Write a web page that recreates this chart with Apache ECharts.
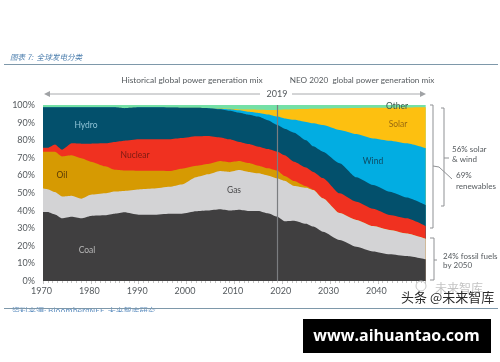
<!DOCTYPE html>
<html><head><meta charset="utf-8">
<style>html,body{margin:0;padding:0;background:#fff}#c{width:500px;height:362px}</style>
<script src="https://cdn.jsdelivr.net/npm/echarts@6/dist/echarts.min.js"></script>
</head><body><div id="c"></div>
<script>
var years=[1970,1971,1972.5,1974,1976,1978,1980,1983,1985,1987,1990,1993,1996.5,1999,2002,2004.5,2007,2009,2011,2013,2015,2017,2019,2020.5,2022.5,2025,2026.5,2028.5,2032,2035.5,2039,2042.5,2046,2050];
// upper edge of each band, in %
var coalTop=[39.2,39.2,37.8,35.6,36.5,35.6,37,37.3,38.2,39,37.6,37.6,38.2,38.2,39.6,40,40.7,40,40.5,39.8,39.8,38.5,36.5,34,34.3,32.5,30.9,28,23.3,19.5,16.8,15.2,14.2,12.3];
var gasTop=[52.6,52.2,50.5,48,48.5,46.8,49,49.8,50.8,51.2,52,52.5,53.5,54.8,59,60.6,62.5,62,63,62,61.2,60,58.3,57,54,53,51.7,47,38.6,34.7,31.2,29,27,24];
var oilTop=[73.5,73.5,73.5,70.8,71.4,69.7,67.8,65.2,63.2,62.8,62.7,62.6,62.5,63.8,65.5,66.5,68.2,67.5,68.2,67,65.5,64,62.7,59.7,56.8,53.8,51.9,47,38.6,34.7,31.2,29,27,24];
var nuclearTop=[75.7,75.7,77.6,74.6,78.2,78,78,78.2,79,79.7,80.5,80.5,80.5,81.2,82.2,82.4,81.6,80.5,79,77.8,76.3,75,73.5,71.5,67.8,64.5,62,58.5,49.8,45,41,37.5,35.6,31.2];
var hydroTop=[98.7,98.7,98.7,98.7,98.7,98.7,98.7,98.7,98.7,98.2,98.7,98.7,98.6,98.5,98.4,98.2,97.6,96.7,95.6,94.5,93.4,91.3,88.6,86.5,84.3,80,76.5,73.5,66.9,58.9,54.5,50.7,47.5,43.2];
var windTop=[98.7,98.7,98.7,98.7,98.7,98.7,98.7,98.7,98.7,98.2,98.7,98.7,98.6,98.5,98.4,98.2,97.9,97.6,97,96.1,95.5,94.6,93.4,92.4,91.6,90.4,89.6,88.6,85.8,83.5,81,79.7,78.2,75.4];
var solarTop=[98.7,98.7,98.7,98.7,98.7,98.7,98.7,98.7,98.7,98.2,98.7,98.7,98.6,98.5,98.4,98.2,98,97.8,97.5,97.4,97.3,97.2,97.2,97.4,97.6,97.7,97.8,97.9,98.1,98.3,98.4,98.5,98.6,98.7];
var otherTop=[100,100,100,100,100,100,100,100,100,100,100,100,100,100,100,100,100,100,100,100,100,100,100,100,100,100,100,100,100,100,100,100,100,100];
var bandNames=['Other','Solar','Wind','Hydro','Nuclear','Oil','Gas','Coal'];
var bandColors=['#74e0a6','#fdc010','#02ade2','#03506c','#f03120','#d69a02','#d3d3d5','#403f40'];
var bandTops=[otherTop,solarTop,windTop,hydroTop,nuclearTop,oilTop,gasTop,coalTop];
var yTicks=[0,10,20,30,40,50,60,70,80,90,100];

var F='Lato, sans-serif', TC='#555a5e';
// bands are drawn back to front, each filled down to the axis
var series=bandNames.map(function(n,i){
  return {name:n,type:'line',symbol:'none',smooth:0.2,smoothMonotone:'x',lineStyle:{width:0},showSymbol:false,silent:true,
    areaStyle:{color:bandColors[i],opacity:1,origin:'start'},itemStyle:{color:bandColors[i]},
    data:years.map(function(y,k){return [y,bandTops[i][k]];})};
});
series.push({type:'line',data:[],silent:true,markLine:{symbol:'none',silent:true,label:{show:false},
  lineStyle:{color:'#7b7d80',width:1.2,type:'solid'},data:[{xAxis:2019}]},z:5});

function t(x,y,s,o){o=o||{};return {type:'text',x:x,y:y,z:20,style:{text:s,fill:o.c||TC,font:(o.i||'normal')+' '+(o.w||'normal')+' '+(o.s||9)+'px '+(o.f||F),textAlign:o.a||'left',textVerticalAlign:'middle'}};}
function pl(p,c,w){return {type:'polyline',z:20,shape:{points:p},style:{stroke:c||'#8f9194',lineWidth:w||1,fill:null}};}
function tri(p,c){return {type:'polygon',z:20,shape:{points:p},style:{fill:c||'#a0a2a5'}};}
var graphic=[
  t(10,57,'图表 7:  全球发电分类',{c:'#4d7fae',s:7.6,i:'italic',f:'"Noto Sans CJK SC"'}),
  pl([[4,64.5],[498,64.5]],'#7e98aa',1.2),
  t(192,80,'Historical global power generation mix',{a:'center',s:8.4}),
  t(362,80,'NEO 2020  global power generation mix',{a:'center',s:8.2}),
  pl([[48,94],[260,94]],'#a8aaad',1),tri([[44,94],[50,91],[50,97]]),
  t(277,94,'2019',{a:'center',s:9}),
  pl([[292,94],[421,94]],'#a8aaad',1),tri([[426,94],[420,91],[420,97]]),
  // brackets
  pl([[430,105],[433,105],[433,228],[430,228]]),
  pl([[441,108],[444,108],[444,206],[441,206]]),
  pl([[444,158],[449,158]]),
  pl([[433,166],[439,167],[452,179]]),
  pl([[430,238],[434,238],[434,280],[430,280]]),
  pl([[434,260],[437,260]]),
  t(452,149,'56% solar',{s:8}),t(452,159,'& wind',{s:8}),
  t(456,175,'69%',{s:8}),t(456,186,'renewables',{s:8}),
  t(443,256,'24% fossil fuels',{s:8}),t(443,265,'by 2050',{s:8}),
  // band labels
  t(86,125.5,'Hydro',{a:'center',c:'#8fc3d6',s:8.5}),
  t(135,155,'Nuclear',{a:'center',c:'#7a1a12',s:8.5}),
  t(62,175.5,'Oil',{a:'center',c:'#5a3a05',s:8.5}),
  t(234,190.5,'Gas',{a:'center',c:'#4a4a4c',s:8.5}),
  t(87,250,'Coal',{a:'center',c:'#b8b8b8',s:8.5}),
  t(373,161,'Wind',{a:'center',c:'#0f4a63',s:8.5}),
  t(398,124,'Solar',{a:'center',c:'#9a6a10',s:8.5}),
  t(397,106,'Other',{a:'center',c:'#3a5a4c',s:8.5}),
  // bottom rule and clipped source line
  t(12,311,'资料来源: BloombergNEF, 未来智库研究',{c:'#5f8fc0',s:8,f:'"Noto Sans CJK SC"'}),
  {type:'rect',z:21,shape:{x:0,y:312,width:500,height:12},style:{fill:'#fff'}},
  pl([[4,308.5],[498,308.5]],'#7e98aa',1.2),
  // watermarks
  {type:'circle',z:22,shape:{cx:421,cy:286,r:5},style:{fill:'none',stroke:'#c8c8c8',lineWidth:1}},
  t(435,288,'未来智库',{c:'#c4c4c4',s:12,f:'"Noto Sans CJK SC"'}),
  t(401,297,'头条 @未来智库',{c:'#2a2a2a',s:13,f:'"Noto Sans CJK SC"'}),
  // banner
  {type:'rect',z:23,shape:{x:303,y:319,width:188,height:34},style:{fill:'#000'}},
  {type:'text',z:24,x:396.5,y:336,style:{text:'www.aihuantao.com',fill:'#fff',font:'bold 16px "Open Sans", sans-serif',textAlign:'center',textVerticalAlign:'middle'}}
];
var chart=echarts.init(document.getElementById('c'),null,{renderer:'canvas'});
chart.setOption({animation:false,backgroundColor:'#fff',
  grid:{left:43,right:74.3,top:105,bottom:81,containLabel:false},
  xAxis:{type:'value',min:1970,max:2050,interval:10,splitLine:{show:false},
    axisLine:{show:false},axisTick:{show:true,length:3,inside:false,lineStyle:{color:'#c4c4c4',width:1}},
    minorTick:{show:true,splitNumber:10,length:2,lineStyle:{color:'#c4c4c4'}},minorSplitLine:{show:false},
    axisLabel:{color:TC,fontFamily:F,fontSize:9,margin:6,padding:[0,3,0,0],formatter:function(v){return v===2050?'':String(v);}}},
  yAxis:{type:'value',min:yTicks[0],max:yTicks[yTicks.length-1],interval:10,splitLine:{show:false},
    axisLine:{show:false},axisTick:{show:false},
    axisLabel:{color:TC,fontFamily:F,fontSize:9,margin:8,formatter:'{value}%'}},
  series:series,graphic:graphic});
</script></body></html>
